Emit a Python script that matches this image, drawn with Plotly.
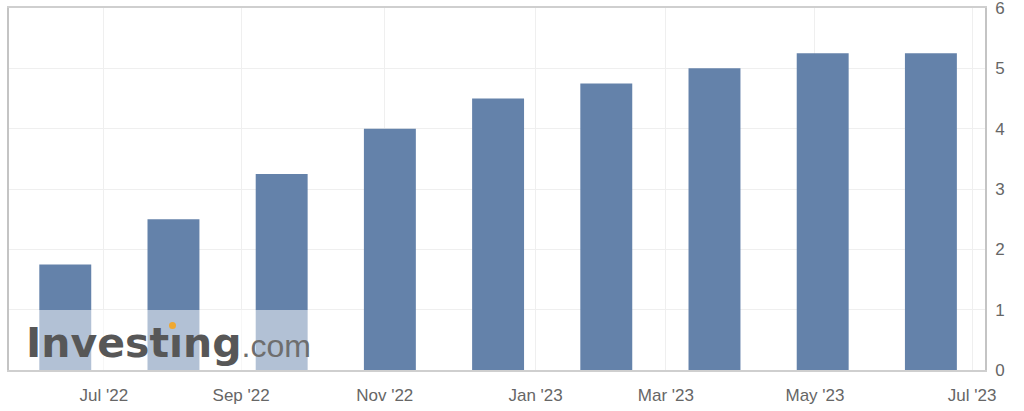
import numpy as np
import pandas as pd
import plotly.graph_objects as go

# ---- data ----
decision_dates = ["2022-06-16", "2022-07-28", "2022-09-22", "2022-11-03", "2022-12-15",
                  "2023-02-02", "2023-03-23", "2023-05-04", "2023-06-15"]
rates = [1.75, 2.50, 3.25, 4.00, 4.50, 4.75, 5.00, 5.25, 5.25]
tick_dates = ["2022-07-01", "2022-09-01", "2022-11-01", "2023-01-01",
              "2023-03-01", "2023-05-01", "2023-07-01"]
tick_labels = ["Jul '22", "Sep '22", "Nov '22", "Jan '23", "Mar '23", "May '23", "Jul '23"]
y_ticks = [0, 1, 2, 3, 4, 5, 6]

# ---- ordinal axis: bars evenly spaced, ticks interpolated between bar dates ----
d = pd.to_datetime(decision_dates).astype("int64").to_numpy() / 86400e9
idx = np.arange(len(d), dtype=float)
gap = d[-1] - d[-2]
d_ext = np.append(d, d[-1] + gap)
idx_ext = np.append(idx, idx[-1] + 1)
t = pd.to_datetime(tick_dates).astype("int64").to_numpy() / 86400e9
tick_pos = np.interp(t, d_ext, idx_ext)

BAR = "#6482aa"
W, H = 1024, 411
ML, MR, MT, MB = 9, 39, 8, 41
PW, PH = W - ML - MR, H - MT - MB


def px(xp):
    return (xp - ML) / PW


def py(yp):
    return (H - MB - yp) / PH


fig = go.Figure(go.Bar(
    x=idx, y=rates, width=0.48, marker=dict(color=BAR, line=dict(width=0)),
    customdata=decision_dates, hovertemplate="%{customdata}: %{y:.2f}%<extra></extra>",
))

fig.update_layout(
    width=W, height=H, autosize=False,
    margin=dict(l=ML, r=MR, t=MT, b=MB, pad=0, autoexpand=False),
    paper_bgcolor="white", plot_bgcolor="white",
    showlegend=False,
    font=dict(family="Liberation Sans, Arial, sans-serif", color="#666", size=16),
    xaxis=dict(
        range=[-0.52, 8.5], tickmode="array", tickvals=tick_pos, ticktext=tick_labels,
        showgrid=True, gridcolor="#efefef", gridwidth=1, zeroline=False,
        showline=True, linecolor="#cfcfcf", linewidth=1.5, mirror=True,
        ticks="", tickfont=dict(size=17, color="#666"), ticklabelstandoff=9,
        automargin=False, ticklabeloverflow="allow",
    ),
    yaxis=dict(
        range=[0, 6], side="right", tickmode="array", tickvals=y_ticks,
        showgrid=True, gridcolor="#efefef", gridwidth=1, zeroline=False,
        showline=True, linecolor="#c4c4c4", linewidth=1.5, mirror=True,
        ticks="", tickfont=dict(size=17, color="#666"), ticklabelstandoff=5,
        automargin=False, ticklabeloverflow="allow",
    ),
)

# watermark: translucent white panel + logo text
fig.add_shape(type="rect", xref="paper", yref="paper",
              x0=px(9), x1=px(312), y0=py(370), y1=py(310),
              fillcolor="rgba(255,255,255,0.5)", line=dict(width=0), layer="above")
fig.add_annotation(
    xref="paper", yref="paper", x=px(24), y=py(343), xanchor="left", yanchor="middle",
    showarrow=False,
    text=("<span style='font-family:DejaVu Sans;font-weight:bold;font-size:41px;color:#575757'>Investıng</span>"
          "<span style='font-family:Liberation Sans;font-size:32px;color:#6e6e6e'>.com</span>"),
)
fig.add_shape(type="circle", xref="paper", yref="paper",
              x0=px(169), x1=px(176), y0=py(329), y1=py(322),
              fillcolor="#f0a830", line=dict(width=0), layer="above")

fig.write_html("out.html", config={"displayModeBar": False},
               post_script="document.body.style.margin='0';document.body.style.overflow='hidden';")
